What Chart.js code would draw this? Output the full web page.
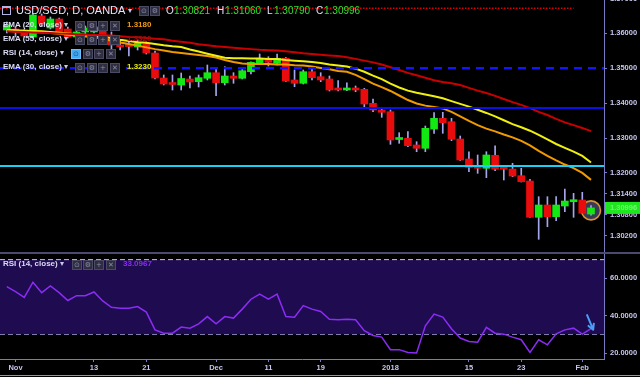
<!DOCTYPE html>
<html>
<head>
<meta charset="utf-8">
<title>USD/SGD, D, OANDA</title>
<script src="https://cdn.jsdelivr.net/npm/chart.js@4.4.1/dist/chart.umd.min.js"></script>
<style>
  html, body { margin: 0; padding: 0; background: #000; }
  #wrap { position: relative; width: 640px; height: 377px; overflow: hidden; background: #000; font-family: 'Liberation Sans', Arial, sans-serif; }
  #mainBox { position: absolute; left: 0; top: -12px; }
  #rsiBox { position: absolute; left: 0; top: 253px; }
  .line { position: absolute; left: 0; width: 640px; }
  .t { position: absolute; white-space: nowrap; }
  .lbl { font: bold 8px 'Liberation Sans', Arial, sans-serif; line-height: 10px; color: #dcdcf6; }
  .caret { font: 8px 'DejaVu Sans', sans-serif; line-height: 10px; color: #c8c8ee; }
  .ico { position: absolute; width: 8px; height: 8px; background: #2e2e40; border: 1px solid #4a4a62; color: #8c8cac; font: 7px 'DejaVu Sans', sans-serif; line-height: 8px; text-align: center; }
  .ico.on { background: #45a8f2; border-color: #6cc0ff; color: #1b4f8a; }
  .val { font: bold 8px 'Liberation Sans', Arial, sans-serif; line-height: 10px; }
  .hdr { font: 11px 'Liberation Sans', Arial, sans-serif; line-height: 13px; color: #e6e6ff; }
  .ohlc { font: 10px 'Liberation Sans', Arial, sans-serif; line-height: 12px; }
</style>
</head>
<body>
<div id="wrap">
  <div id="mainBox"><canvas id="mainChart" width="640" height="264"></canvas></div>
  <div id="rsiBox"><canvas id="rsiChart" width="640" height="124"></canvas></div>
  <div class="line" style="top:252px;height:2px;background:#4a4a70"></div>
  <div class="line" style="top:375px;height:1px;background:#8e8ed2"></div>

  <!-- symbol header -->
  <span class="t" style="left:2px;top:6px;width:7px;height:6px;border:1px solid #b4b4e4;border-top-width:2px"></span>
  <span class="t hdr" style="left:16px;top:4px">USD/SGD, D, OANDA</span>
  <span class="t caret" style="left:128px;top:6px">▾</span>
  <span class="ico" style="left:139px;top:6px">⊙</span>
  <span class="ico" style="left:150px;top:6px">⚙</span>
  <div id="ohlc"></div>

  <!-- indicator rows -->
  <span class="t lbl" style="left:3px;top:20px">EMA (20, close)</span>
  <span class="t caret" style="left:64px;top:20px">▾</span>
  <span class="ico" style="left:75px;top:21px">⊙</span><span class="ico" style="left:87px;top:21px">⚙</span><span class="ico" style="left:98px;top:21px">+</span><span class="ico" style="left:110px;top:21px">✕</span>
  <span class="t val" id="v20" style="left:127px;top:20px;color:#f29a16"></span>

  <span class="t lbl" style="left:3px;top:34px">EMA (55, close)</span>
  <span class="t caret" style="left:64px;top:34px">▾</span>
  <span class="ico" style="left:75px;top:35px">⊙</span><span class="ico" style="left:87px;top:35px">⚙</span><span class="ico" style="left:98px;top:35px">+</span><span class="ico" style="left:110px;top:35px">✕</span>
  <span class="t val" id="v55" style="left:127px;top:34px;color:#9a0e0e"></span>

  <span class="t lbl" style="left:3px;top:48px">RSI (14, close)</span>
  <span class="t caret" style="left:60px;top:48px">▾</span>
  <span class="ico on" style="left:71px;top:49px">⊙</span><span class="ico" style="left:83px;top:49px">⚙</span><span class="ico" style="left:94px;top:49px">+</span><span class="ico" style="left:106px;top:49px">✕</span>

  <span class="t lbl" style="left:3px;top:62px">EMA (30, close)</span>
  <span class="t caret" style="left:64px;top:62px">▾</span>
  <span class="ico" style="left:75px;top:63px">⊙</span><span class="ico" style="left:87px;top:63px">⚙</span><span class="ico" style="left:98px;top:63px">+</span><span class="ico" style="left:110px;top:63px">✕</span>
  <span class="t val" id="v30" style="left:127px;top:62px;color:#eaea18"></span>

  <!-- RSI pane header -->
  <span class="t lbl" style="left:3px;top:259px">RSI (14, close)</span>
  <span class="t caret" style="left:60px;top:259px">▾</span>
  <span class="ico" style="left:72px;top:260px">⊙</span><span class="ico" style="left:83px;top:260px">⚙</span><span class="ico" style="left:94px;top:260px">+</span><span class="ico" style="left:106px;top:260px">✕</span>
  <span class="t val" id="vrsi" style="left:123px;top:259px;color:#8b2cf5"></span>
</div>

<script>
  // Daily candles, Oct 31 2017 .. Feb 2 2018 (left to right)
  const opens = [
    1.36099, 1.36127, 1.36099, 1.35898, 1.36500, 1.36156, 1.36414, 1.36127, 1.35898, 1.36041,
    1.36041, 1.36185, 1.35898, 1.35668, 1.35654, 1.35611, 1.35697, 1.35439, 1.34722, 1.34564,
    1.34521, 1.34693, 1.34616, 1.34713, 1.34874, 1.34587, 1.34779, 1.34713, 1.34903, 1.35144,
    1.35287, 1.35144, 1.35287, 1.34665, 1.34570, 1.34903, 1.34759, 1.34693, 1.34407, 1.34378,
    1.34407, 1.34398, 1.33996, 1.33804, 1.33755, 1.32958, 1.32993, 1.32800, 1.32706, 1.33259,
    1.33566, 1.33469, 1.32973, 1.32399, 1.32161, 1.32132, 1.32505, 1.32132, 1.32112, 1.31920,
    1.31768, 1.30727, 1.31080, 1.30744, 1.31051, 1.31174, 1.31223, 1.30821
  ];
  const highs = [
    1.36328, 1.36185, 1.36127, 1.36557, 1.36557, 1.36471, 1.36443, 1.36185, 1.36099, 1.36213,
    1.36242, 1.36213, 1.36041, 1.35812, 1.35754, 1.35812, 1.35754, 1.35496, 1.34808, 1.34808,
    1.34865, 1.34779, 1.34808, 1.35095, 1.34980, 1.35046, 1.34874, 1.35009, 1.35189, 1.35410,
    1.35333, 1.35410, 1.35310, 1.34951, 1.34951, 1.35009, 1.34874, 1.34779, 1.34645, 1.34587,
    1.34493, 1.34427, 1.34120, 1.33882, 1.33804, 1.33153, 1.33182, 1.32895, 1.33345, 1.33727,
    1.33738, 1.33566, 1.33058, 1.32608, 1.32514, 1.32608, 1.32780, 1.32161, 1.32276, 1.32132,
    1.31817, 1.31318, 1.31318, 1.31318, 1.31539, 1.31415, 1.31444, 1.31060
  ];
  const lows = [
    1.36013, 1.35898, 1.35898, 1.35869, 1.36213, 1.36127, 1.36013, 1.35869, 1.35841, 1.35984,
    1.36013, 1.35841, 1.35525, 1.35525, 1.35353, 1.35525, 1.35410, 1.34693, 1.34521, 1.34378,
    1.34378, 1.34435, 1.34464, 1.34665, 1.34214, 1.34521, 1.34570, 1.34693, 1.34837, 1.35138,
    1.35066, 1.35095, 1.34622, 1.34472, 1.34550, 1.34665, 1.34616, 1.34349, 1.34349, 1.34358,
    1.34329, 1.33899, 1.33755, 1.33595, 1.32820, 1.32849, 1.32752, 1.32608, 1.32608, 1.33136,
    1.33136, 1.32924, 1.32356, 1.32035, 1.31989, 1.31863, 1.32063, 1.31797, 1.31891, 1.31739,
    1.30721, 1.30096, 1.30457, 1.30629, 1.30887, 1.30727, 1.30836, 1.30790
  ];
  const closes = [
    1.36242, 1.36041, 1.35927, 1.36529, 1.36271, 1.36414, 1.36041, 1.35898, 1.36041, 1.36156,
    1.36185, 1.35898, 1.35668, 1.35611, 1.35625, 1.35726, 1.35439, 1.34722, 1.34550, 1.34536,
    1.34708, 1.34607, 1.34731, 1.34874, 1.34587, 1.34779, 1.34713, 1.34931, 1.35172, 1.35287,
    1.35172, 1.35287, 1.34636, 1.34570, 1.34903, 1.34731, 1.34665, 1.34378, 1.34378, 1.34407,
    1.34378, 1.33976, 1.33804, 1.33738, 1.32944, 1.32987, 1.32780, 1.32706, 1.33279, 1.33566,
    1.33440, 1.32964, 1.32370, 1.32161, 1.32132, 1.32514, 1.32104, 1.32104, 1.31911, 1.31748,
    1.30727, 1.31080, 1.30744, 1.31080, 1.31194, 1.31223, 1.30842, 1.30996
  ];

  const ema20 = [
    1.3607, 1.3606, 1.3605, 1.3604, 1.3603, 1.3601, 1.3599, 1.3596, 1.3594, 1.3591,
    1.3589, 1.3585, 1.3579, 1.3574, 1.3570, 1.3565, 1.3560, 1.3555, 1.3551, 1.3547,
    1.3544, 1.3541, 1.3538, 1.3535, 1.3531, 1.3524, 1.3518, 1.3514, 1.3512, 1.3512,
    1.3512, 1.3511, 1.3511, 1.3509, 1.3508, 1.3505, 1.3501, 1.3497, 1.3492, 1.3490,
    1.3481, 1.3469, 1.3456, 1.3446, 1.3435, 1.3422, 1.3409, 1.3399, 1.3393, 1.3389,
    1.3385, 1.3375, 1.3362, 1.3349, 1.3337, 1.3327, 1.3319, 1.3310, 1.3302, 1.3292,
    1.3279, 1.3263, 1.3249, 1.3236, 1.3224, 1.3214, 1.3200, 1.3180
  ];
  const ema30 = [
    1.3610, 1.3609, 1.3608, 1.3607, 1.3606, 1.3604, 1.3602, 1.3600, 1.3598, 1.3596,
    1.3594, 1.3591, 1.3587, 1.3582, 1.3578, 1.3575, 1.3573, 1.3570, 1.3566, 1.3563,
    1.3561, 1.3554, 1.3548, 1.3542, 1.3536, 1.3530, 1.3529, 1.3529, 1.3528, 1.3528,
    1.3527, 1.3527, 1.3524, 1.3522, 1.3520, 1.3518, 1.3515, 1.3511, 1.3508, 1.3505,
    1.3499, 1.3490, 1.3479, 1.3469, 1.3456, 1.3445, 1.3436, 1.3430, 1.3425, 1.3420,
    1.3414, 1.3406, 1.3398, 1.3390, 1.3381, 1.3372, 1.3362, 1.3351, 1.3340, 1.3331,
    1.3321, 1.3309, 1.3296, 1.3283, 1.3272, 1.3261, 1.3249, 1.3230
  ];
  const ema55 = [
    1.3606, 1.3605, 1.3604, 1.3603, 1.3602, 1.3601, 1.3600, 1.3599, 1.3598, 1.3597,
    1.3596, 1.3595, 1.3594, 1.3592, 1.3590, 1.3589, 1.3587, 1.3585, 1.3583, 1.3579,
    1.3576, 1.3573, 1.3569, 1.3566, 1.3563, 1.3561, 1.3559, 1.3557, 1.3555, 1.3553,
    1.3552, 1.3551, 1.3549, 1.3546, 1.3543, 1.3541, 1.3539, 1.3537, 1.3535, 1.3532,
    1.3527, 1.3522, 1.3517, 1.3511, 1.3503, 1.3495, 1.3487, 1.3480, 1.3473, 1.3466,
    1.3461, 1.3457, 1.3452, 1.3444, 1.3436, 1.3429, 1.3421, 1.3412, 1.3403, 1.3395,
    1.3386, 1.3375, 1.3366, 1.3355, 1.3345, 1.3337, 1.3329, 1.3320
  ];
  const rsi14 = [
    55.5, 52.9, 49.8, 57.9, 52.3, 55.9, 52.3, 48.1, 50.7, 50.7,
    52.7, 47.9, 44.5, 44.0, 44.0, 44.9, 41.9, 32.4, 30.6, 30.6,
    33.9, 33.3, 35.6, 39.5, 35.6, 39.5, 38.7, 43.5, 48.8, 51.5,
    48.8, 51.5, 39.5, 39.2, 45.4, 43.5, 42.2, 38.1, 37.8, 38.1,
    37.8, 31.9, 29.4, 28.5, 21.8, 21.8, 20.3, 20.0, 34.6, 40.8,
    39.2, 33.0, 28.0, 26.2, 25.8, 33.7, 30.6, 30.1, 28.5, 27.1,
    20.3, 27.1, 24.4, 30.3, 32.4, 33.3, 30.1, 33.0967
  ];

  // Drawn horizontal levels: red dotted, blue dashed, blue solid, cyan
  const hLevels = [1.3672, 1.3500, 1.3386, 1.3220];
  const rsiBands = [70, 30];

  const priceTicks = [1.37, 1.36, 1.35, 1.34, 1.33, 1.32, 1.314, 1.308, 1.302];
  const rsiTicks = [60, 40, 20];
  const dateTickIdx = [1, 10, 16, 24, 30, 36, 44, 53, 59, 66];
  const dateTickText = ['Nov', '13', '21', 'Dec', '11', '19', '2018', '15', '23', 'Feb'];

  // Visible ranges
  const X_MIN = -0.78, X_MAX = 68.49;
  const Y_MIN = 1.29732, Y_MAX = 1.37303;
  const RSI_MIN = 16.79, RSI_MAX = 73.55;

  const UP = '#12e812';
  const DOWN = '#e80c0c';
  const WICK = '#a6a6ee';
  const AXIS = '#7a7ac4';
  const LABEL = '#c6c6f0';
  const AXIS_FONT = { family: "'Liberation Sans', Arial, sans-serif", size: 7.5, weight: 'bold' };

  Chart.defaults.font.family = "'Liberation Sans', Arial, sans-serif";

  const last = closes.length - 1;
  const idx = closes.map(function (_, i) { return i; });

  function series(arr) {
    return arr.map(function (v, i) { return { x: i, y: v }; });
  }
  function level(v, x0, x1) {
    return [{ x: x0, y: v }, { x: x1, y: v }];
  }
  function lineSet(data, color, width, dash, order) {
    return {
      type: 'line',
      data: data,
      borderColor: color,
      borderWidth: width,
      borderDash: dash || [],
      pointRadius: 0,
      tension: 0,
      fill: false,
      order: order,
    };
  }

  // Axes keep their exact size: no label padding eaten from the plot area
  function fixedWidth(w) {
    return function (s) {
      s.width = w;
      s.paddingTop = 0;
      s.paddingBottom = 0;
    };
  }
  function fixedHeight(h) {
    return function (s) {
      s.height = h;
      s.paddingLeft = 0;
      s.paddingRight = 0;
    };
  }

  // Ring round the last candle, drawn under the candles
  const lastMarker = {
    id: 'lastMarker',
    beforeDatasetsDraw(chart) {
      const ctx = chart.ctx;
      const cx = chart.scales.x.getPixelForValue(last);
      const cy = chart.scales.y.getPixelForValue((highs[last] + lows[last]) / 2);
      ctx.save();
      ctx.beginPath();
      ctx.arc(cx, cy, 9.5, 0, Math.PI * 2);
      ctx.fillStyle = '#3a3a56';
      ctx.fill();
      ctx.lineWidth = 1.6;
      ctx.strokeStyle = '#dc932c';
      ctx.stroke();
      ctx.restore();
    },
  };

  // Last price tag on the price axis
  const priceTag = {
    id: 'priceTag',
    afterDraw(chart) {
      const ctx = chart.ctx;
      const area = chart.chartArea;
      const py = chart.scales.y.getPixelForValue(closes[last]);
      ctx.save();
      ctx.fillStyle = '#1de81d';
      ctx.fillRect(area.right + 1, py - 6, chart.width - area.right - 1, 12);
      ctx.fillStyle = '#7cf07c';
      ctx.font = 'bold 7.5px ' + AXIS_FONT.family;
      ctx.textBaseline = 'middle';
      ctx.fillText(closes[last].toFixed(5), area.right + 6, py + 0.5);
      ctx.restore();
    },
  };

  new Chart(document.getElementById('mainChart'), {
    type: 'bar',
    data: {
      datasets: [
        lineSet(level(hLevels[0], X_MIN, 65), '#e00000', 1.5, [1.5, 1.5], 0),
        lineSet(level(hLevels[1], X_MIN, X_MAX), '#1414ff', 2.5, [8, 6], 0),
        lineSet(level(hLevels[2], X_MIN, X_MAX), '#0c10e8', 2, null, 0),
        lineSet(level(hLevels[3], X_MIN, X_MAX), '#1ad0f5', 2, null, 0),
        lineSet(series(ema55), '#c80000', 2, null, 0),
        lineSet(series(ema30), '#f0f010', 2, null, 0),
        lineSet(series(ema20), '#f09a00', 2, null, 0),
        {
          data: idx.map(function (i) { return { x: i, y: [opens[i], closes[i]] }; }),
          backgroundColor: idx.map(function (i) { return closes[i] >= opens[i] ? UP : DOWN; }),
          barThickness: 7,
          minBarLength: 2,
          grouped: false,
          order: 1,
        },
        {
          data: idx.map(function (i) { return { x: i, y: [lows[i], highs[i]] }; }),
          backgroundColor: WICK,
          barThickness: 1,
          grouped: false,
          order: 2,
        },
      ],
    },
    options: {
      responsive: false,
      animation: false,
      events: [],
      layout: { padding: 0, autoPadding: false },
      plugins: { legend: { display: false }, tooltip: { enabled: false } },
      scales: {
        x: { type: 'linear', min: X_MIN, max: X_MAX, offset: false, display: false },
        y: {
          position: 'right',
          min: Y_MIN,
          max: Y_MAX,
          afterFit: fixedWidth(36),
          afterBuildTicks: function (s) { s.ticks = priceTicks.map(function (v) { return { value: v }; }); },
          ticks: { color: LABEL, font: AXIS_FONT, padding: 3, callback: function (v) { return v.toFixed(5); } },
          grid: { drawOnChartArea: false, tickLength: 3, color: AXIS },
          border: { color: AXIS },
        },
      },
    },
    plugins: [lastMarker, priceTag],
  });

  // Hand-drawn arrow in the RSI pane
  const rsiArrow = {
    id: 'rsiArrow',
    afterDatasetsDraw(chart) {
      const ctx = chart.ctx;
      const x = chart.scales.x, y = chart.scales.y;
      const x0 = x.getPixelForValue(last - 0.45), y0 = y.getPixelForValue(40.3);
      const x1 = x.getPixelForValue(last + 0.25), y1 = y.getPixelForValue(32.5);
      const a = Math.atan2(y1 - y0, x1 - x0);
      ctx.save();
      ctx.strokeStyle = '#4a9ff5';
      ctx.lineWidth = 2;
      ctx.lineCap = 'round';
      ctx.beginPath();
      ctx.moveTo(x0, y0);
      ctx.lineTo(x1, y1);
      ctx.moveTo(x1, y1);
      ctx.lineTo(x1 - 6 * Math.cos(a - 0.5), y1 - 6 * Math.sin(a - 0.5));
      ctx.moveTo(x1, y1);
      ctx.lineTo(x1 - 6 * Math.cos(a + 0.5), y1 - 6 * Math.sin(a + 0.5));
      ctx.stroke();
      ctx.restore();
    },
  };

  new Chart(document.getElementById('rsiChart'), {
    type: 'line',
    data: {
      datasets: [
        Object.assign(lineSet(level(rsiBands[0], X_MIN, X_MAX), '#c4c4f0', 1, [5, 3], 2), {
          fill: '+1',
          backgroundColor: '#1f0b50',
        }),
        lineSet(level(rsiBands[1], X_MIN, X_MAX), '#c4c4f0', 1, [5, 3], 2),
        lineSet(series(rsi14), '#8b2cf5', 1.5, null, 0),
      ],
    },
    options: {
      responsive: false,
      animation: false,
      events: [],
      layout: { padding: 0, autoPadding: false },
      plugins: { legend: { display: false }, tooltip: { enabled: false } },
      scales: {
        x: {
          type: 'linear',
          min: X_MIN,
          max: X_MAX,
          offset: false,
          afterFit: fixedHeight(18),
          afterBuildTicks: function (s) { s.ticks = dateTickIdx.map(function (v) { return { value: v }; }); },
          ticks: {
            autoSkip: false,
            maxRotation: 0,
            padding: 1,
            color: LABEL,
            font: AXIS_FONT,
            callback: function (v, k) { return dateTickText[k]; },
          },
          grid: { drawOnChartArea: false, tickLength: 3, color: AXIS },
          border: { color: AXIS },
        },
        y: {
          position: 'right',
          min: RSI_MIN,
          max: RSI_MAX,
          afterFit: fixedWidth(36),
          afterBuildTicks: function (s) { s.ticks = rsiTicks.map(function (v) { return { value: v }; }); },
          ticks: { color: LABEL, font: AXIS_FONT, padding: 3, callback: function (v) { return v.toFixed(4); } },
          grid: { drawOnChartArea: false, tickLength: 3, color: AXIS },
          border: { color: AXIS },
        },
      },
    },
    plugins: [rsiArrow],
  });

  // Legend values
  function setText(id, txt) {
    const el = document.getElementById(id);
    if (el) el.textContent = txt;
  }
  setText('v20', ema20[last].toFixed(4));
  setText('v55', ema55[last].toFixed(4));
  setText('v30', ema30[last].toFixed(4));
  setText('vrsi', rsi14[last].toFixed(4));

  const ohlcBox = document.getElementById('ohlc');
  const ohlcParts = [
    ['O', opens[last], 166, 174],
    ['H', highs[last], 217, 225],
    ['L', lows[last], 267, 274],
    ['C', closes[last], 316, 324],
  ];
  ohlcParts.forEach(function (p) {
    const k = document.createElement('span');
    k.className = 't ohlc';
    k.style.cssText = 'left:' + p[2] + 'px;top:5px;color:#e6e6ff';
    k.textContent = p[0];
    const v = document.createElement('span');
    v.className = 't ohlc';
    v.style.cssText = 'left:' + p[3] + 'px;top:5px;color:#2fe02f';
    v.textContent = p[1].toFixed(5);
    ohlcBox.appendChild(k);
    ohlcBox.appendChild(v);
  });
</script>
</body>
</html>
